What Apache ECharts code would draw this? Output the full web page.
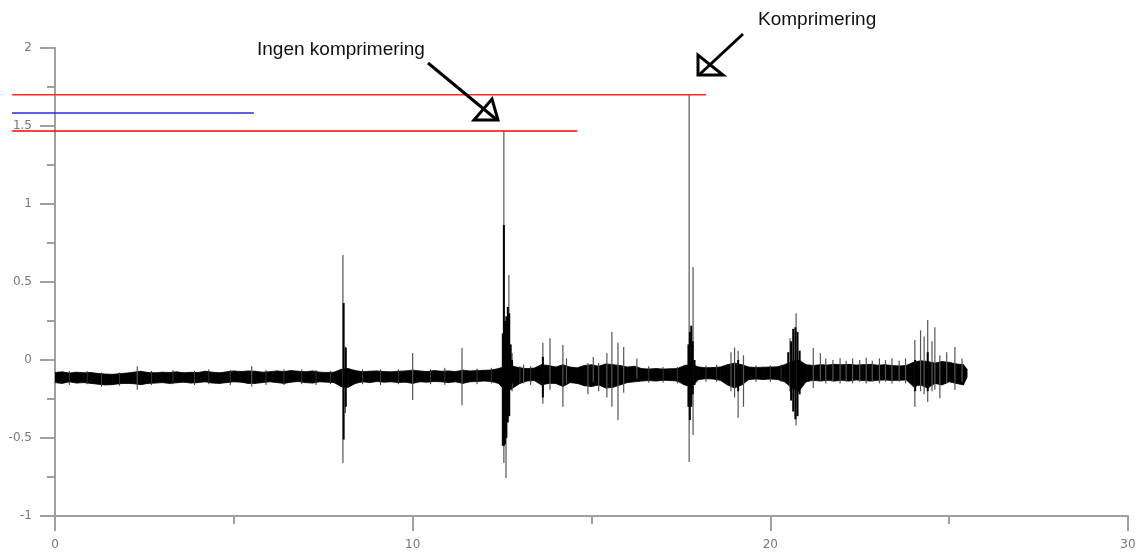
<!DOCTYPE html>
<html><head><meta charset="utf-8">
<script src="https://cdn.jsdelivr.net/npm/echarts@6/dist/echarts.min.js"></script>
<style>html,body{margin:0;padding:0;background:#fff}#c{width:1137px;height:552px}</style>
</head><body><div id="c"></div>
<script>
// ---- data ----
// noise band envelope (time in s)
const bandX = [
 0,0.2,0.4,0.6,0.8,1.0,1.2,1.4,1.6,1.8,
 2.0,2.2,2.4,2.6,2.8,3.0,3.2,3.4,3.6,3.8,
 4.0,4.2,4.4,4.6,4.8,5.0,5.2,5.4,5.6,5.8,
 6.0,6.2,6.4,6.6,6.8,7.0,7.2,7.4,7.6,7.8,
 8.0,8.2,8.4,8.6,8.8,9.0,9.2,9.4,9.6,9.8,
 10.0,10.2,10.4,10.6,10.8,11.0,11.2,11.4,11.6,11.8,
 12.0,12.2,12.4,12.6,12.8,13.0,13.2,13.4,13.6,13.8,
 14.0,14.2,14.4,14.6,14.8,15.0,15.2,15.4,15.6,15.8,
 16.0,16.2,16.4,16.6,16.8,17.0,17.2,17.4,17.6,17.8,
 18.0,18.2,18.4,18.6,18.8,19.0,19.2,19.4,19.6,19.8,
 20.0,20.2,20.4,20.6,20.8,21.0,21.2,21.4,21.6,21.8,
 22.0,22.2,22.4,22.6,22.8,23.0,23.2,23.4,23.6,23.8,
 24.0,24.2,24.4,24.6,24.8,25.0,25.2,25.4,25.5];
const bandHi = [
 -0.080,-0.076,-0.084,-0.078,-0.082,-0.080,-0.086,-0.090,-0.092,-0.088,
 -0.084,-0.078,-0.072,-0.080,-0.082,-0.078,-0.080,-0.076,-0.082,-0.079,
 -0.080,-0.072,-0.078,-0.082,-0.076,-0.070,-0.074,-0.070,-0.072,-0.078,
 -0.075,-0.070,-0.074,-0.068,-0.072,-0.075,-0.070,-0.078,-0.080,-0.078,
 -0.060,-0.055,-0.068,-0.075,-0.072,-0.070,-0.074,-0.076,-0.072,-0.070,
 -0.065,-0.070,-0.074,-0.068,-0.072,-0.070,-0.074,-0.065,-0.070,-0.068,
 -0.066,-0.064,-0.055,-0.040,-0.040,-0.050,-0.055,-0.052,-0.030,-0.035,
 -0.045,-0.030,-0.045,-0.050,-0.035,-0.030,-0.040,-0.025,-0.030,-0.035,
 -0.045,-0.040,-0.055,-0.058,-0.055,-0.058,-0.056,-0.055,-0.035,-0.030,
 -0.045,-0.050,-0.048,-0.045,-0.030,-0.020,-0.030,-0.045,-0.048,-0.046,
 -0.045,-0.044,-0.030,-0.010,0.000,-0.030,-0.035,-0.030,-0.032,-0.028,
 -0.030,-0.028,-0.032,-0.030,-0.028,-0.033,-0.030,-0.035,-0.038,-0.035,
 -0.015,-0.005,-0.010,-0.020,-0.010,-0.015,-0.025,-0.030,-0.060];
const bandLo = [
 -0.145,-0.150,-0.140,-0.148,-0.145,-0.150,-0.155,-0.160,-0.158,-0.152,
 -0.150,-0.152,-0.158,-0.150,-0.148,-0.145,-0.150,-0.146,-0.142,-0.148,
 -0.145,-0.140,-0.148,-0.150,-0.145,-0.140,-0.142,-0.150,-0.150,-0.145,
 -0.140,-0.145,-0.150,-0.142,-0.138,-0.145,-0.148,-0.140,-0.142,-0.145,
 -0.170,-0.175,-0.150,-0.140,-0.145,-0.138,-0.142,-0.140,-0.145,-0.142,
 -0.150,-0.140,-0.142,-0.138,-0.140,-0.145,-0.140,-0.150,-0.140,-0.138,
 -0.135,-0.138,-0.150,-0.200,-0.180,-0.150,-0.135,-0.132,-0.160,-0.150,
 -0.150,-0.170,-0.145,-0.150,-0.165,-0.170,-0.160,-0.180,-0.175,-0.160,
 -0.145,-0.140,-0.135,-0.132,-0.135,-0.130,-0.132,-0.135,-0.160,-0.170,
 -0.125,-0.120,-0.122,-0.130,-0.160,-0.180,-0.160,-0.125,-0.122,-0.125,
 -0.122,-0.125,-0.140,-0.180,-0.200,-0.140,-0.130,-0.135,-0.130,-0.135,
 -0.130,-0.135,-0.128,-0.132,-0.135,-0.130,-0.128,-0.132,-0.130,-0.128,
 -0.170,-0.160,-0.180,-0.150,-0.160,-0.140,-0.150,-0.160,-0.110];

// thin (grey) spikes: time, min, max
const spikeX  = [2.3,5.5,8.05,8.12,10.0,11.38,12.55,12.61,12.69,12.78,13.1,13.64,13.84,14.2,14.3,14.9,15.05,15.2,15.43,15.57,15.74,15.9,16.27,
  17.73,17.84,18.9,19.0,19.1,19.25,20.55,20.72,21.2,21.4,21.55,21.75,21.95,22.12,22.3,22.5,22.68,22.85,23.05,23.22,23.4,23.6,23.78,
  24.04,24.2,24.3,24.4,24.52,24.6,24.74,24.93,25.16,25.36];
const spikeLo = [-0.19,-0.17,-0.66,-0.34,-0.256,-0.29,-0.66,-0.756,-0.30,-0.20,-0.15,-0.28,-0.19,-0.30,-0.15,-0.22,-0.14,-0.20,-0.24,-0.30,-0.385,-0.21,-0.12,
  -0.654,-0.48,-0.20,-0.24,-0.37,-0.30,-0.20,-0.42,-0.18,-0.13,-0.15,-0.14,-0.15,-0.14,-0.15,-0.14,-0.15,-0.14,-0.15,-0.14,-0.15,-0.14,-0.15,
  -0.30,-0.20,-0.22,-0.27,-0.20,-0.19,-0.245,-0.15,-0.19,-0.14];
const spikeHi = [-0.04,-0.04,0.673,0.085,0.045,0.077,1.468,-0.10,0.545,0.045,-0.03,0.11,0.14,0.096,0.01,-0.02,0.02,-0.02,0.045,0.18,0.11,0.083,0.01,
  1.70,0.596,0.05,0.08,0.06,0.03,0.14,0.30,0.077,0.045,0.01,0.0,0.012,-0.005,0.01,0.0,0.015,-0.005,0.01,0.0,0.012,-0.005,0.01,
  0.128,0.19,0.15,0.256,0.12,0.21,0.03,0.05,0.083,0.01];

// small noise hairs on the quiet parts: time, min, max
const hairX  = [0.4,0.9,1.3,1.8,2.7,3.3,3.9,4.3,4.9,5.9,6.4,6.9,7.3,7.7,8.6,9.1,9.6,10.5,10.9,11.8,12.2,13.0,13.3,16.6,17.0,17.4,18.2,18.5,19.6,20.0,20.3];
const hairLo = [-0.16,-0.155,-0.17,-0.165,-0.16,-0.155,-0.16,-0.155,-0.16,-0.16,-0.16,-0.155,-0.16,-0.155,-0.155,-0.16,-0.155,-0.155,-0.16,-0.155,-0.15,-0.15,-0.16,-0.145,-0.145,-0.15,-0.14,-0.14,-0.14,-0.14,-0.14];
const hairHi = [-0.07,-0.072,-0.08,-0.08,-0.07,-0.065,-0.07,-0.06,-0.065,-0.065,-0.06,-0.06,-0.065,-0.07,-0.06,-0.06,-0.06,-0.06,-0.05,-0.055,-0.05,-0.04,-0.04,-0.04,-0.045,-0.045,-0.035,-0.03,-0.035,-0.035,-0.03];

// dark (thick) spike cores: time, min, max
const coreX  = [8.07,8.13,12.52,12.55,12.58,12.62,12.66,12.70,12.74,12.78,13.64,17.71,17.75,17.79,17.83,17.88,19.10,20.50,20.58,20.64,20.70,20.76,20.82,24.05,24.40];
const coreLo = [-0.51,-0.30,-0.55,-0.55,-0.54,-0.50,-0.40,-0.36,-0.19,-0.15,-0.24,-0.30,-0.385,-0.30,-0.22,-0.16,-0.20,-0.15,-0.26,-0.33,-0.38,-0.36,-0.22,-0.20,-0.20];
const coreHi = [0.365,0.08,0.17,0.865,0.25,0.28,0.34,0.30,0.10,0.00,0.02,0.10,0.18,0.22,0.12,0.00,0.00,0.05,0.12,0.20,0.21,0.18,0.06,0.00,0.05];

// reference level lines
const refLevel = [1.70, 1.583, 1.468];
const refStart = [-1.2, -1.2, -1.2];
const refEnd   = [18.2, 5.56, 14.6];
const refColor = ['#ff2a2a', '#2a2ad8', '#ff0000'];

// axis
const xMin = 0, xMax = 30, xStep = 10;
const yMin = -1, yMax = 2, yStep = 0.5;

// ---- chart ----
const chart = echarts.init(document.getElementById('c'), null, {renderer: 'canvas'});
const axisGrey = '#a0a0a0';
const labelStyle = {color: '#777', fontSize: 12, fontFamily: 'DejaVu Sans'};

function vlineSeries(name, xs, lo, hi, color, width) {
  return {
    type: 'custom', name: name, clip: true,
    encode: {x: 0, y: [1, 2]},
    data: xs.map((x, i) => [x, lo[i], hi[i]]),
    renderItem: function (params, api) {
      const p1 = api.coord([api.value(0), api.value(1)]);
      const p2 = api.coord([api.value(0), api.value(2)]);
      return {type: 'line', shape: {x1: p1[0], y1: p1[1], x2: p2[0], y2: p2[1]},
        style: {stroke: color, lineWidth: width}};
    }
  };
}

const series = [];
series.push({
  type: 'custom', name: 'band', clip: true,
  encode: {x: 0, y: [1, 2]},
  data: bandX.map((x, i) => [x, bandLo[i], bandHi[i]]),
  renderItem: function (params, api) {
    const i = params.dataIndex;
    if (i >= bandX.length - 1) return null;
    const a = api.coord([bandX[i], bandLo[i]]);
    const b = api.coord([bandX[i], bandHi[i]]);
    const c = api.coord([bandX[i + 1], bandHi[i + 1]]);
    const d = api.coord([bandX[i + 1], bandLo[i + 1]]);
    return {type: 'polygon', shape: {points: [a, b, c, d]},
      style: {fill: '#000', stroke: '#000', lineWidth: 0.8}};
  }
});
series.push(vlineSeries('hairs', hairX, hairLo, hairHi, '#333', 1));
series.push(vlineSeries('spikes', spikeX, spikeLo, spikeHi, '#555', 1.2));
series.push(vlineSeries('cores', coreX, coreLo, coreHi, '#000', 2));
series.push({
  type: 'custom', name: 'levels', clip: false, z: 5,
  encode: {x: [0, 1], y: 2},
  data: refLevel.map((lv, i) => [refStart[i], refEnd[i], lv, i]),
  renderItem: function (params, api) {
    const lv = api.value(2);
    const p1 = api.coord([api.value(0), lv]);
    const p2 = api.coord([api.value(1), lv]);
    return {type: 'line', shape: {x1: p1[0], y1: p1[1], x2: p2[0], y2: p2[1]},
      style: {stroke: refColor[api.value(3)], lineWidth: 1.4}};
  }
});

chart.setOption({
  animation: false,
  backgroundColor: '#fff',
  grid: {left: 55, right: 9, top: 48, bottom: 36, containLabel: false, outerBoundsMode: 'none'},
  xAxis: {
    type: 'value', min: xMin, max: xMax, interval: xStep,
    axisLine: {onZero: false, lineStyle: {color: axisGrey, width: 2}},
    axisTick: {length: 15, lineStyle: {color: axisGrey, width: 2}},
    minorTick: {show: true, splitNumber: 2, length: 8, lineStyle: {color: axisGrey, width: 2}},
    splitLine: {show: false}, minorSplitLine: {show: false},
    axisLabel: Object.assign({margin: 23}, labelStyle)
  },
  yAxis: {
    type: 'value', min: yMin, max: yMax, interval: yStep,
    axisLine: {show: true, onZero: false, lineStyle: {color: axisGrey, width: 2}},
    axisTick: {show: true, length: 15, lineStyle: {color: axisGrey, width: 2}},
    minorTick: {show: true, splitNumber: 2, length: 8, lineStyle: {color: axisGrey, width: 2}},
    splitLine: {show: false}, minorSplitLine: {show: false},
    axisLabel: Object.assign({margin: 23}, labelStyle)
  },
  series: series,
  graphic: [
    {type: 'text', z: 10, style: {x: 257, y: 50, text: 'Ingen komprimering', font: '19px "Liberation Sans", Arial, sans-serif', fill: '#111', verticalAlign: 'middle'}},
    {type: 'text', z: 10, style: {x: 758, y: 20, text: 'Komprimering', font: '19px "Liberation Sans", Arial, sans-serif', fill: '#111', verticalAlign: 'middle'}},
    {type: 'polyline', z: 10, shape: {points: [[428, 63], [497, 120]]}, style: {stroke: '#000', lineWidth: 3, fill: null}},
    {type: 'polygon', z: 10, shape: {points: [[474, 120], [498, 120], [492, 99]]}, style: {stroke: '#000', lineWidth: 3, fill: 'none'}},
    {type: 'polyline', z: 10, shape: {points: [[743, 34], [700, 74]]}, style: {stroke: '#000', lineWidth: 3, fill: null}},
    {type: 'polygon', z: 10, shape: {points: [[698, 55], [698, 75], [723, 75]]}, style: {stroke: '#000', lineWidth: 3, fill: 'none'}}
  ]
});
</script>
</body></html>
